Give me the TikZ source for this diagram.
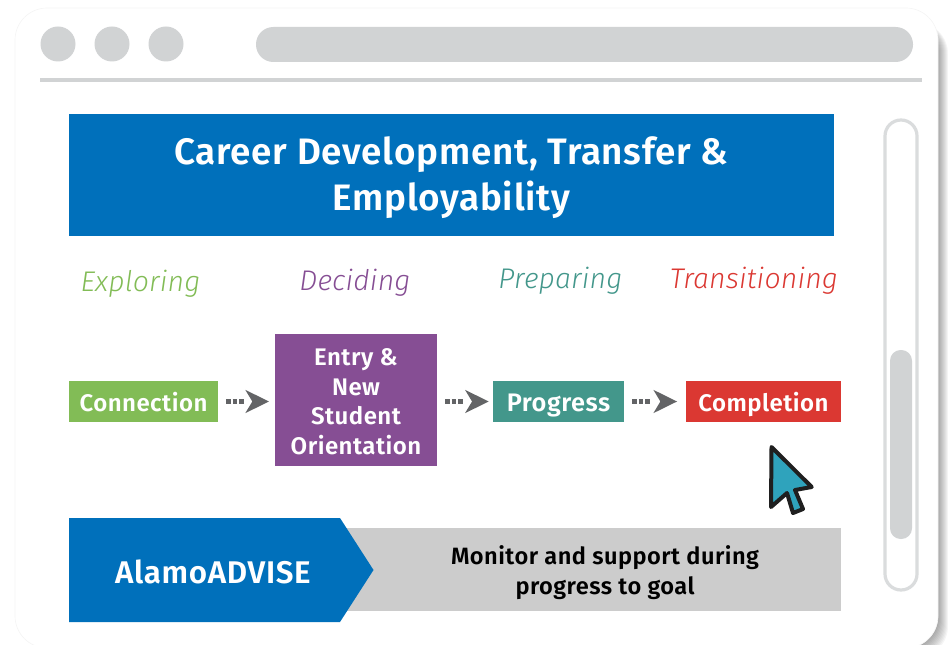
\documentclass[tikz,border=0pt]{standalone}
\usepackage{fontspec}
\setmainfont{Fira Sans SemiBold}[LetterSpace=2.0]
\newfontfamily\thinit{Fira Sans Light Italic}[LetterSpace=0.6]
\usetikzlibrary{arrows.meta,positioning,calc}
\definecolor{chrome}{HTML}{D1D3D4}
\definecolor{blueb}{HTML}{0070BB}
\definecolor{greenb}{HTML}{82BC56}
\definecolor{purpleb}{HTML}{864E94}
\definecolor{tealb}{HTML}{43978B}
\definecolor{redb}{HTML}{DB3832}
\definecolor{greyb}{HTML}{CCCCCC}
\definecolor{arrowg}{HTML}{636466}
\definecolor{cursorb}{HTML}{2FA3BC}
\tikzset{
 x=0.75pt,y=-0.75pt,
 box/.style={inner sep=0pt,outer sep=0pt,anchor=north west},
 chip/.style={box,align=center,text=white,font=\fontsize{18}{22}\selectfont,text height=16pt,text depth=1pt},
 caption/.style={inner sep=0pt,align=center},
 phase/.style={inner sep=0pt,font=\fontsize{21.3}{26}\selectfont\thinit},
 flow/.style={draw=arrowg,line width=3.6pt,dash pattern=on 3.4pt off 1.5pt on 3.4pt off 1.5pt on 3.4pt off 30pt,shorten <=6pt,
   -{Stealth[length=17.5pt,width=17pt,inset=5pt,fill=arrowg]}},
}
\begin{document}
\begin{tikzpicture}
\useasboundingbox (0,0) rectangle (948,645);
% shadow
\foreach \w in {1,...,10}{
  \fill[black,opacity=0.04,rounded corners=24pt] (30,22) rectangle (938+\w,648+\w);
}
% window
\fill[white,draw=black!4,line width=0.5pt,rounded corners=24pt] (15,8) rectangle (938,648);
\fill[chrome] (58,44) circle [radius=17.5];
\fill[chrome] (112,44) circle [radius=17.5];
\fill[chrome] (166,44) circle [radius=17.5];
\fill[chrome,rounded corners=13pt] (256,27) rectangle (913,62);
\fill[chrome] (40,78) rectangle (922,82);
\draw[draw=chrome!80,line width=2.4pt,rounded corners=12pt] (885,120) rectangle (917,590);
\fill[chrome,rounded corners=8pt] (890,350) rectangle (912,539);
% title
\node[box,fill=blueb,minimum width=573.75pt,minimum height=91.5pt] (titlebar) at (69,114) {};
\node[caption,text=white,font=\fontsize{27.6}{34}\selectfont] (title) at (451.5,177.5) {Career Development, Transfer \&\\Employability};
% phases
\node[phase,text=greenb] (exploring) at (140.5,284) {Exploring};
\node[phase,text=purpleb] (deciding) at (355,283) {Deciding};
\node[phase,text=tealb] (preparing) at (560.5,281) {Preparing};
\node[phase,text=redb] (transitioning) at (754,281) {Transitioning};
% boxes
\node[chip,fill=greenb,minimum width=111.75pt,minimum height=30.75pt] (connection) at (69,381) {Connection};
\node[box,fill=purpleb,minimum width=121.5pt,minimum height=99pt] (entry) at (275,334) {};
\node[caption,text=white,font=\fontsize{18}{22.1}\selectfont] (entrytext) at (356,401.5) {Entry \&\\New\\Student\\Orientation};
\node[chip,fill=tealb,minimum width=98.25pt,minimum height=30.75pt,font=\fontsize{19}{22}\selectfont] (progress) at (493,381) {Progress};
\node[chip,fill=redb,minimum width=116.25pt,minimum height=30.75pt] (completion) at (686,381) {Completion};
\draw[flow,shorten >=4.5pt] (connection.east) -- (connection.east -| entry.west);
\draw[flow,shorten >=3.2pt] (progress.west -| entry.east) -- (progress.west);
\draw[flow,shorten >=6.7pt] (progress.east) -- (completion.west);
% bottom
\node[box,fill=greyb,minimum width=375pt,minimum height=62.25pt] (monitorbar) at (341,528) {};
\node[caption,text=black,font=\fontsize{17.7}{22.5}\selectfont] (monitor) at (605,572.5) {Monitor and support during\\progress to goal};
\fill[blueb] (69,518) -- (340,518) -- (373.5,570) -- (340,622) -- (69,622) -- cycle;
\node[inner sep=0pt,text=white,font=\fontsize{23.5}{28}\selectfont] (alamo) at (213,572) {AlamoADVISE};
% cursor
\draw[draw=black!88,fill=cursorb,line width=3pt,line join=round] (771.5,447) -- (811.7,487) -- (795,490) -- (803,509) -- (793,513) -- (787,493) -- (771,507) -- cycle;
\end{tikzpicture}
\end{document}
